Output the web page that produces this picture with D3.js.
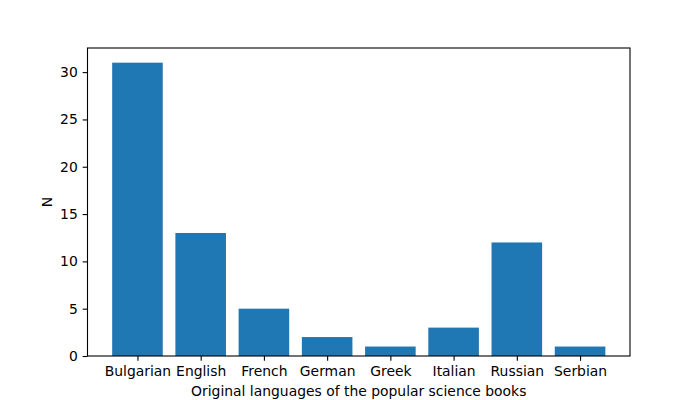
<!DOCTYPE html>
<html><head><meta charset="utf-8">
<script src="https://cdn.jsdelivr.net/npm/d3@7"></script>
<style>body{margin:0;background:#fff}svg{display:block}text{font-family:"DejaVu Sans",sans-serif}</style>
</head><body>
<script>
const categories = ["Bulgarian","English","French","German","Greek","Italian","Russian","Serbian"];
const values = [31,13,5,2,1,3,12,1];
const yTicks = [0,5,10,15,20,25,30];
const xLabel = "Original languages of the popular science books";
const yLabel = "N";

const W=700,H=400, L=87.5, R=630, T=48, B=356;
const svg=d3.select("body").append("svg").attr("width",W).attr("height",H);
const n=categories.length, bw=0.8;
const lo=-bw/2, hi=n-1+bw/2, pad=(hi-lo)*0.05;
const x=d3.scaleLinear().domain([lo-pad,hi+pad]).range([L,R]);
const ymax=d3.max(values)*1.05;
const y=d3.scaleLinear().domain([0,ymax]).range([B,T]);

svg.append("g").selectAll("rect").data(values).join("rect")
 .attr("x",(d,i)=>x(i-bw/2)).attr("width",(d,i)=>x(i+bw/2)-x(i-bw/2))
 .attr("y",d=>y(d)).attr("height",d=>y(0)-y(d)).attr("fill","#1f77b4");

const fs="13.9px";
const xa=d3.axisBottom(x).tickValues(d3.range(n)).tickFormat(i=>categories[i]).tickSizeOuter(0).tickSize(4.86).tickPadding(4.86);
const gx=svg.append("g").attr("transform",`translate(0,${B})`).call(xa);
const ya=d3.axisLeft(y).tickValues(yTicks).tickSizeOuter(0).tickSize(4.86).tickPadding(4.86);
const gy=svg.append("g").attr("transform",`translate(${L},0)`).call(ya);
[gx,gy].forEach(g=>{g.select(".domain").remove();g.selectAll("line").attr("stroke","#000").attr("stroke-width",1.1);
 g.selectAll("text").attr("font-size",fs).attr("fill","#000").attr("font-family","DejaVu Sans");});

svg.append("rect").attr("x",L).attr("y",T).attr("width",R-L).attr("height",B-T)
 .attr("fill","none").attr("stroke","#000").attr("stroke-width",1.1);

svg.append("text").attr("x",(L+R)/2).attr("y",396).attr("text-anchor","middle").attr("font-size",fs).text(xLabel);
svg.append("text").attr("transform",`translate(52,${(T+B)/2}) rotate(-90)`).attr("text-anchor","middle").attr("font-size",fs).text(yLabel);
</script>
</body></html>
